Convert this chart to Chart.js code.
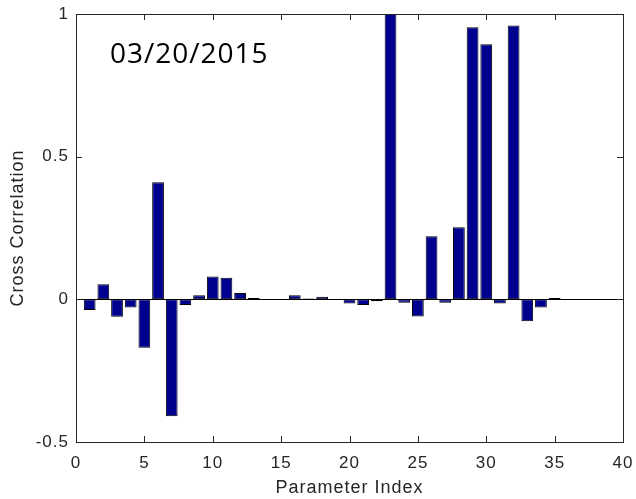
<!DOCTYPE html>
<html>
<head>
<meta charset="utf-8">
<script src="https://cdn.jsdelivr.net/npm/chart.js@4.4.1/dist/chart.umd.min.js"></script>
<style>
  html, body { margin: 0; padding: 0; background: #fff; }
  #wrap { width: 636px; height: 499px; }
</style>
</head>
<body>
<div id="wrap"><canvas id="corrChart" width="636" height="499"></canvas></div>
<script>
// parameter index 1..35 and their cross correlation
const paramIndex = [1,2,3,4,5,6,7,8,9,10,11,12,13,14,15,16,17,18,19,20,21,22,23,24,25,26,27,28,29,30,31,32,33,34,35];
const crossCorr = [
  -0.037, 0.053, -0.061, -0.029, -0.170, 0.410, -0.410, -0.020, 0.014, 0.080,
   0.076, 0.022, 0.005, 0, 0, 0.014, 0.003, 0.009, 0, -0.015,
  -0.020, -0.007, 1.000, -0.012, -0.060, 0.221, -0.012, 0.253, 0.954, 0.894,
  -0.015, 0.960, -0.077, -0.029, 0.005
];
const xTicks = [0,5,10,15,20,25,30,35,40];
const yTicks = [-0.5,0,0.5,1];
const dateLabel = '03/20/2015';

const fontFamily = '"Liberation Sans", Arial, sans-serif';
const tickFont = { family: fontFamily, size: 17 };
const titleFont = { family: fontFamily, size: 18 };

// wider letter spacing for all text, like the old plotting fonts
const spacingPlugin = {
  id: 'spacing',
  beforeInit(chart){ chart.ctx.letterSpacing = '1px'; },
  beforeDraw(chart){ chart.ctx.letterSpacing = '1px'; }
};

// box around the plot, inward ticks on all four sides, zero baseline, date text
const boxPlugin = {
  id: 'box',
  afterDatasetsDraw(chart){
    const {ctx, chartArea: a, scales: {x, y}} = chart;
    ctx.save();
    ctx.strokeStyle = '#000';
    ctx.lineWidth = 1;
    const y0 = Math.round(y.getPixelForValue(0)) + 0.5;
    ctx.beginPath();
    ctx.moveTo(a.left, y0); ctx.lineTo(a.right, y0);
    ctx.stroke();

    ctx.strokeStyle = '#262626';
    ctx.strokeRect(Math.round(a.left)+0.5, Math.round(a.top)+0.5, Math.round(a.right-a.left), Math.round(a.bottom-a.top));
    const len = 6;
    ctx.beginPath();
    xTicks.forEach(v => {
      const px = Math.round(x.getPixelForValue(v)) + 0.5;
      ctx.moveTo(px, a.bottom); ctx.lineTo(px, a.bottom - len);
      ctx.moveTo(px, a.top); ctx.lineTo(px, a.top + len);
    });
    yTicks.forEach(v => {
      const py = Math.round(y.getPixelForValue(v)) + 0.5;
      ctx.moveTo(a.left, py); ctx.lineTo(a.left + len, py);
      ctx.moveTo(a.right, py); ctx.lineTo(a.right - len, py);
    });
    ctx.stroke();

    ctx.fillStyle = '#000';
    ctx.letterSpacing = '1px';
    ctx.font = '28px "Open Sans", sans-serif';
    ctx.textBaseline = 'alphabetic';
    ctx.textAlign = 'left';
    ctx.fillText(dateLabel, 110, 63);
    ctx.restore();
  }
};

new Chart(document.getElementById('corrChart'), {
  type: 'bar',
  data: {
    datasets: [{
      label: 'Cross Correlation',
      data: paramIndex.map((p, i) => ({ x: p, y: crossCorr[i] })),
      backgroundColor: '#00008F',
      borderColor: '#000',
      borderWidth: 1,
      borderSkipped: false,
      barPercentage: 0.86,
      categoryPercentage: 1
    }]
  },
  options: {
    responsive: false,
    animation: false,
    layout: { padding: { top: 14, right: 13, left: 0, bottom: 0 } },
    plugins: { legend: { display: false }, tooltip: { enabled: false } },
    scales: {
      x: {
        type: 'linear',
        min: 0, max: 40,
        offset: false,
        grid: { display: false, drawTicks: false },
        border: { display: false },
        afterBuildTicks: s => { s.ticks = xTicks.map(v => ({ value: v })); },
        afterFit: s => { s.height = 57; s.paddingLeft = 0; s.paddingRight = 0; },
        ticks: { color: '#262626', font: tickFont, padding: 11, maxRotation: 0, autoSkip: false, callback: v => String(v) },
        title: { display: true, text: 'Parameter Index', color: '#262626', font: titleFont, padding: { top: 0, bottom: 0 } }
      },
      y: {
        min: -0.5, max: 1,
        grid: { display: false, drawTicks: false },
        border: { display: false },
        afterBuildTicks: s => { s.ticks = yTicks.map(v => ({ value: v })); },
        afterFit: s => { s.width = 76; s.paddingTop = 0; s.paddingBottom = 0; },
        ticks: { color: '#262626', font: tickFont, padding: 7, callback: v => String(v) },
        title: { display: true, text: 'Cross Correlation', color: '#262626', font: titleFont, padding: { top: 7, bottom: 0 } }
      }
    }
  },
  plugins: [spacingPlugin, boxPlugin]
});
</script>
</body>
</html>
